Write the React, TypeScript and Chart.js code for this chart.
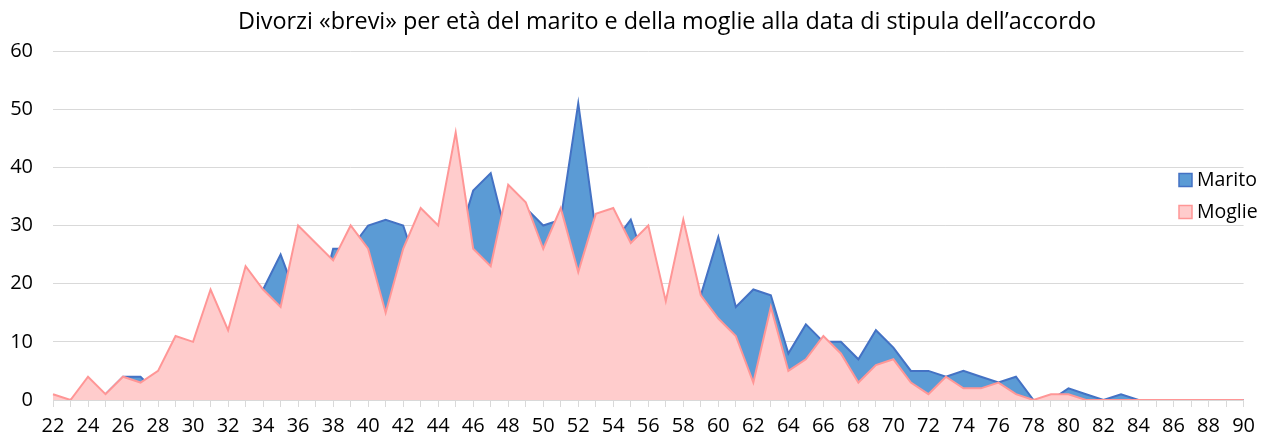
import { useEffect, useRef } from 'react';
import { Chart, registerables } from 'chart.js';

Chart.register(...registerables);

const TITLE = 'Divorzi «brevi» per età del marito e della moglie alla data di stipula dell’accordo';

const AGES = [
  '22', '23', '24', '25', '26', '27', '28', '29', '30', '31',
  '32', '33', '34', '35', '36', '37', '38', '39', '40', '41',
  '42', '43', '44', '45', '46', '47', '48', '49', '50', '51',
  '52', '53', '54', '55', '56', '57', '58', '59', '60', '61',
  '62', '63', '64', '65', '66', '67', '68', '69', '70', '71',
  '72', '73', '74', '75', '76', '77', '78', '79', '80', '81',
  '82', '83', '84', '85', '86', '87', '88', '89', '90',
];

const MARITO = [
  0, 0, 2, 1, 4, 4, 1, 5, 8, 14,
  11, 20, 19, 25, 17, 14, 26, 26, 30, 31,
  30, 21, 24, 26, 36, 39, 27, 33, 30, 31,
  51, 29, 27, 31, 22, 15, 20, 18, 28, 16,
  19, 18, 8, 13, 10, 10, 7, 12, 9, 5,
  5, 4, 5, 4, 3, 4, 0, 0, 2, 1,
  0, 1, 0, 0, 0, 0, 0, 0, 0,
];

const MOGLIE = [
  1, 0, 4, 1, 4, 3, 5, 11, 10, 19,
  12, 23, 19, 16, 30, 27, 24, 30, 26, 15,
  26, 33, 30, 46, 26, 23, 37, 34, 26, 33,
  22, 32, 33, 27, 30, 17, 31, 18, 14, 11,
  3, 16, 5, 7, 11, 8, 3, 6, 7, 3,
  1, 4, 2, 2, 3, 1, 0, 1, 1, 0,
  0, 0, 0, 0, 0, 0, 0, 0, 0,
];

const Y_TICKS = [0, 10, 20, 30, 40, 50, 60];

const FONT = '"Open Sans", "Noto Sans", sans-serif';

const overlayPlugin = {
  id: 'overlay',
  afterDraw(chart: any) {
    const ctx = chart.ctx;
    ctx.save();
    // title
    ctx.fillStyle = '#000';
    ctx.font = `23.4px ${FONT}`;
    ctx.textAlign = 'center';
    ctx.textBaseline = 'middle';
    ctx.fillText(TITLE, 667, 22.5);
    // legend
    ctx.font = `19.5px ${FONT}`;
    ctx.textAlign = 'left';
    const items = chart.data.datasets;
    const ys = [180, 212];
    items.forEach((ds: any, i: number) => {
      const y = ys[i];
      ctx.fillStyle = ds.backgroundColor;
      ctx.fillRect(1179, y - 6.5, 13, 13);
      ctx.strokeStyle = ds.borderColor;
      ctx.lineWidth = 1.5;
      ctx.strokeRect(1179, y - 6.5, 13, 13);
      ctx.fillStyle = '#000';
      ctx.fillText(ds.label, 1197, y);
    });
    ctx.restore();
  },
};

export default function App() {
  const ref = useRef<HTMLCanvasElement | null>(null);

  useEffect(() => {
    document.body.style.margin = '0';
    const canvas = ref.current;
    if (!canvas) return;
    const chart = new Chart(canvas, {
      type: 'line',
      data: {
        labels: AGES,
        datasets: [
          {
            label: 'Marito',
            data: MARITO,
            backgroundColor: 'rgb(91,155,213)',
            borderColor: 'rgb(68,114,196)',
            borderWidth: 2,
            fill: 'origin',
            pointRadius: 0,
            tension: 0,
            order: 1,
          },
          {
            label: 'Moglie',
            data: MOGLIE,
            backgroundColor: 'rgb(255,204,204)',
            borderColor: 'rgb(255,150,150)',
            borderWidth: 2,
            fill: 'origin',
            pointRadius: 0,
            tension: 0,
            order: 0,
          },
        ],
      },
      options: {
        animation: false,
        responsive: false,
        layout: { padding: { top: 51, right: 17, left: 0, bottom: 0 } },
        plugins: {
          legend: { display: false },
          title: { display: false },
          tooltip: { enabled: false },
        },
        scales: {
          x: {
            offset: false,
            grid: {
              drawOnChartArea: false,
              drawTicks: true,
              tickLength: 7,
              color: '#D9D9D9',
            },
            border: { display: true, color: '#D9D9D9', width: 1 },
            ticks: {
              autoSkip: false,
              maxRotation: 0,
              minRotation: 0,
              padding: 7,
              color: '#000',
              font: { family: FONT, size: 20 },
              callback: (_v: any, i: number) => (i % 2 === 0 ? AGES[i] : ''),
            },
            afterFit: (s: any) => {
              s.height = 40;
            },
          },
          y: {
            min: 0,
            max: 60,
            afterBuildTicks: (s: any) => {
              s.ticks = Y_TICKS.map((v) => ({ value: v }));
            },
            grid: { color: '#D9D9D9', drawTicks: false, lineWidth: 1 },
            border: { display: false },
            ticks: {
              padding: 20,
              color: '#000',
              font: { family: FONT, size: 20 },
            },
            afterFit: (s: any) => {
              s.width = 53;
            },
          },
        },
      },
      plugins: [overlayPlugin],
    });
    return () => chart.destroy();
  }, []);

  return (
    <div style={{ width: 1262, height: 440, position: 'relative' }}>
      <canvas ref={ref} width={1262} height={440} style={{ display: 'block' }} />
    </div>
  );
}
